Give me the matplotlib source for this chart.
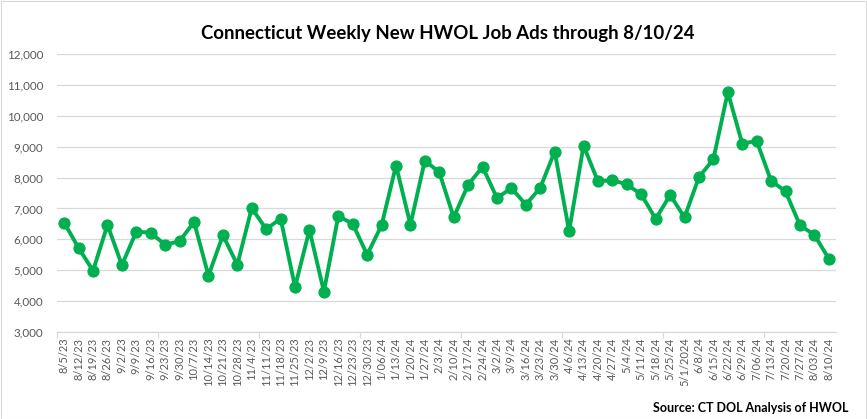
import matplotlib
matplotlib.use("Agg")
import matplotlib.pyplot as plt
from matplotlib.patches import Rectangle
from matplotlib.ticker import FuncFormatter, FixedLocator

# Weekly labels as shown on the chart (including the odd "5/1/2024")
weeks = ["8/5/23", "8/12/23", "8/19/23", "8/26/23", "9/2/23", "9/9/23", "9/16/23",
         "9/23/23", "9/30/23", "10/7/23", "10/14/23", "10/21/23", "10/28/23", "11/4/23",
         "11/11/23", "11/18/23", "11/25/23", "12/2/23", "12/9/23", "12/16/23", "12/23/23",
         "12/30/23", "1/06/24", "1/13/24", "1/20/24", "1/27/24", "2/3/24", "2/10/24",
         "2/17/24", "2/24/24", "3/2/24", "3/9/24", "3/16/24", "3/23/24", "3/30/24",
         "4/6/24", "4/13/24", "4/20/24", "4/27/24", "5/4/24", "5/11/24", "5/18/24",
         "5/25/24", "5/1/2024", "6/8/24", "6/15/24", "6/22/24", "6/29/24", "7/06/24",
         "7/13/24", "7/20/24", "7/27/24", "8/03/24", "8/10/24"]

job_ads = [6540, 5715, 4985, 6467, 5168, 6253, 6210, 5823, 5941, 6564,
           4824, 6134, 5178, 7015, 6328, 6671, 4459, 6306, 4308, 6757,
           6500, 5501, 6456, 8390, 6478, 8551, 8170, 6714, 7767, 8347,
           7337, 7660, 7122, 7670, 8841, 6263, 9034, 7874, 7917, 7778,
           7456, 6661, 7434, 6714, 8014, 8594, 10764, 9099, 9185, 7896,
           7552, 6456, 6145, 5372]

title = "Connecticut Weekly New HWOL Job Ads through 8/10/24"
source = "Source: CT DOL Analysis of HWOL"

W, H = 867, 419
fig = plt.figure(figsize=(W / 100, H / 100), dpi=100)
fig.patch.set_facecolor("white")
fig.patches.append(Rectangle((0.5 / W, 0.5 / H), (W - 1.5) / W, (H - 1.5) / H,
                             transform=fig.transFigure, fill=False,
                             edgecolor="#d9d9d9", linewidth=0.8))

# plot area in pixels: x 57..836, y 54 (12,000) .. 332 (3,000)
left, right, top, bottom = 57, 836, 54, 332
ax = fig.add_axes([left / W, 1 - bottom / H, (right - left) / W, (bottom - top) / H])

x = list(range(len(weeks)))
ax.plot(x, job_ads, color="#00b050", linewidth=2.8, marker="o", markersize=7.8,
        solid_joinstyle="round", zorder=3)

ax.set_xlim(-0.5, len(weeks) - 0.5)
ax.set_ylim(3000, 12000)
ax.set_yticks(range(3000, 12001, 1000))
ax.yaxis.set_major_formatter(FuncFormatter(lambda v, p: f"{int(v):,}"))
ax.grid(axis="y", color="#d9d9d9", linewidth=0.9)
ax.set_axisbelow(True)

ax.set_xticks(x)
ax.set_xticklabels(weeks, rotation=90, fontsize=8, color="#595959", family="Lato")
ax.tick_params(axis="x", length=0, pad=4)
ax.xaxis.set_minor_locator(FixedLocator([i - 0.5 for i in range(0, len(weeks), 7)]))
ax.tick_params(axis="x", which="minor", length=4, color="#d9d9d9", width=0.9)
ax.tick_params(axis="y", length=0, pad=10, labelsize=8.4, labelcolor="#595959")
for lab in ax.get_yticklabels():
    lab.set_family("Lato")

for s in ["top", "right", "left"]:
    ax.spines[s].set_visible(False)
ax.spines["bottom"].set_color("#d9d9d9")
ax.spines["bottom"].set_linewidth(0.9)

fig.text(448 / W, 1 - 34 / H, title, ha="center", va="center",
         fontsize=13.4, fontweight="bold", family="Lato", color="black")
fig.text(848 / W, 1 - 408 / H, source, ha="right", va="center",
         fontsize=9, fontweight="bold", family="Lato", color="black")

fig.savefig("out.png", dpi=100, facecolor="white")
